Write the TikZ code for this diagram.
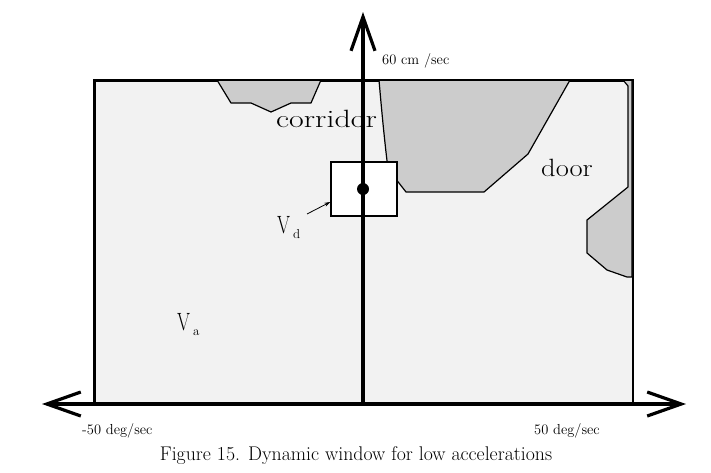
\documentclass[tikz,border=0pt]{standalone}
\usetikzlibrary{arrows.meta}
\definecolor{bgfill}{HTML}{F2F2F2}
\definecolor{obst}{HTML}{CCCCCC}
\tikzset{
  axis/.style={line width=3.2pt, arrows={-Straight Barb[length=34pt,width=24pt,line width=3.2pt]}},
  obstacle/.style={fill=obst, draw=black, line width=1.2pt, line join=round},
  lbl/.style={inner sep=0pt, anchor=base west},
}
\begin{document}
\begin{tikzpicture}[x=1pt,y=-1pt]
\useasboundingbox (0,0) rectangle (711,472);
% velocity space
\node[draw=black, line width=1.5pt, fill=bgfill, minimum width=538pt, minimum height=324pt, inner sep=0pt, anchor=north west] (space) at (94,80) {};
% obstacles
\path[obstacle] (217,80) -- (231,103) -- (251,103) -- (271,112) -- (291,103) -- (311,103) -- (321,80) -- cycle;
\path[obstacle] (379,80) .. controls (382,115) and (385,145) .. (388,169) -- (406,192) -- (484,192) -- (528,154) -- (570,80) -- cycle;
\path[obstacle] (632,80) -- (623,80) -- (628,86) -- (628,187) -- (587,220) -- (587,253) -- (607,270) -- (627,277) -- (632,277) -- cycle;
\draw[line width=1.5pt] (space.north west) rectangle (space.south east);
% dynamic window
\node[draw=black, line width=1.5pt, fill=white, minimum width=66pt, minimum height=54pt, inner sep=0pt] (win) at (364,189) {};
% axes
\coordinate (origin) at (363,404);
\coordinate (vtop) at (363,12);
\coordinate (hleft) at (42,404);
\coordinate (hright) at (686,404);
\draw[axis] (origin) -- (vtop);
\draw[axis] (origin) -- (hleft);
\draw[axis] (origin) -- (hright);
\fill (363,189) circle (6pt) coordinate (vel);
% labels
\node[lbl] (corr) at (276,127) {\scalebox{1.28}[1]{\fontsize{25}{25}\selectfont corridor}};
\node[lbl] (door) at (541,176) {\scalebox{1.14}[1]{\fontsize{25}{25}\selectfont door}};
\node[lbl] (vd) at (277,233) {\scalebox{0.75}[1]{\fontsize{25}{25}\selectfont V}\hspace{3pt}\raisebox{-5pt}{\fontsize{13}{13}\selectfont d}};
\node[lbl] (va) at (177,330) {\scalebox{0.75}[1]{\fontsize{25}{25}\selectfont V}\hspace{3pt}\raisebox{-5pt}{\fontsize{13}{13}\selectfont a}};
\coordinate (vdtail) at (307,214);
\draw[line width=0.8pt, -{Stealth[length=6pt,width=4pt]}] (vdtail) -- (win.west |- 0,202);
\node[lbl] (vmax) at (382,64) {\fontsize{14.5}{14.5}\selectfont 60 cm /sec};
\node[lbl] (wmin) at (82,434) {\fontsize{14.5}{14.5}\selectfont -50 deg/sec};
\node[lbl] (wmax) at (534,434) {\fontsize{14.5}{14.5}\selectfont 50 deg/sec};
\node[inner sep=0pt, anchor=base] (cap) at (356,460) {\fontsize{19.8}{20}\selectfont Figure 15. Dynamic window for low accelerations};
\end{tikzpicture}
\end{document}
